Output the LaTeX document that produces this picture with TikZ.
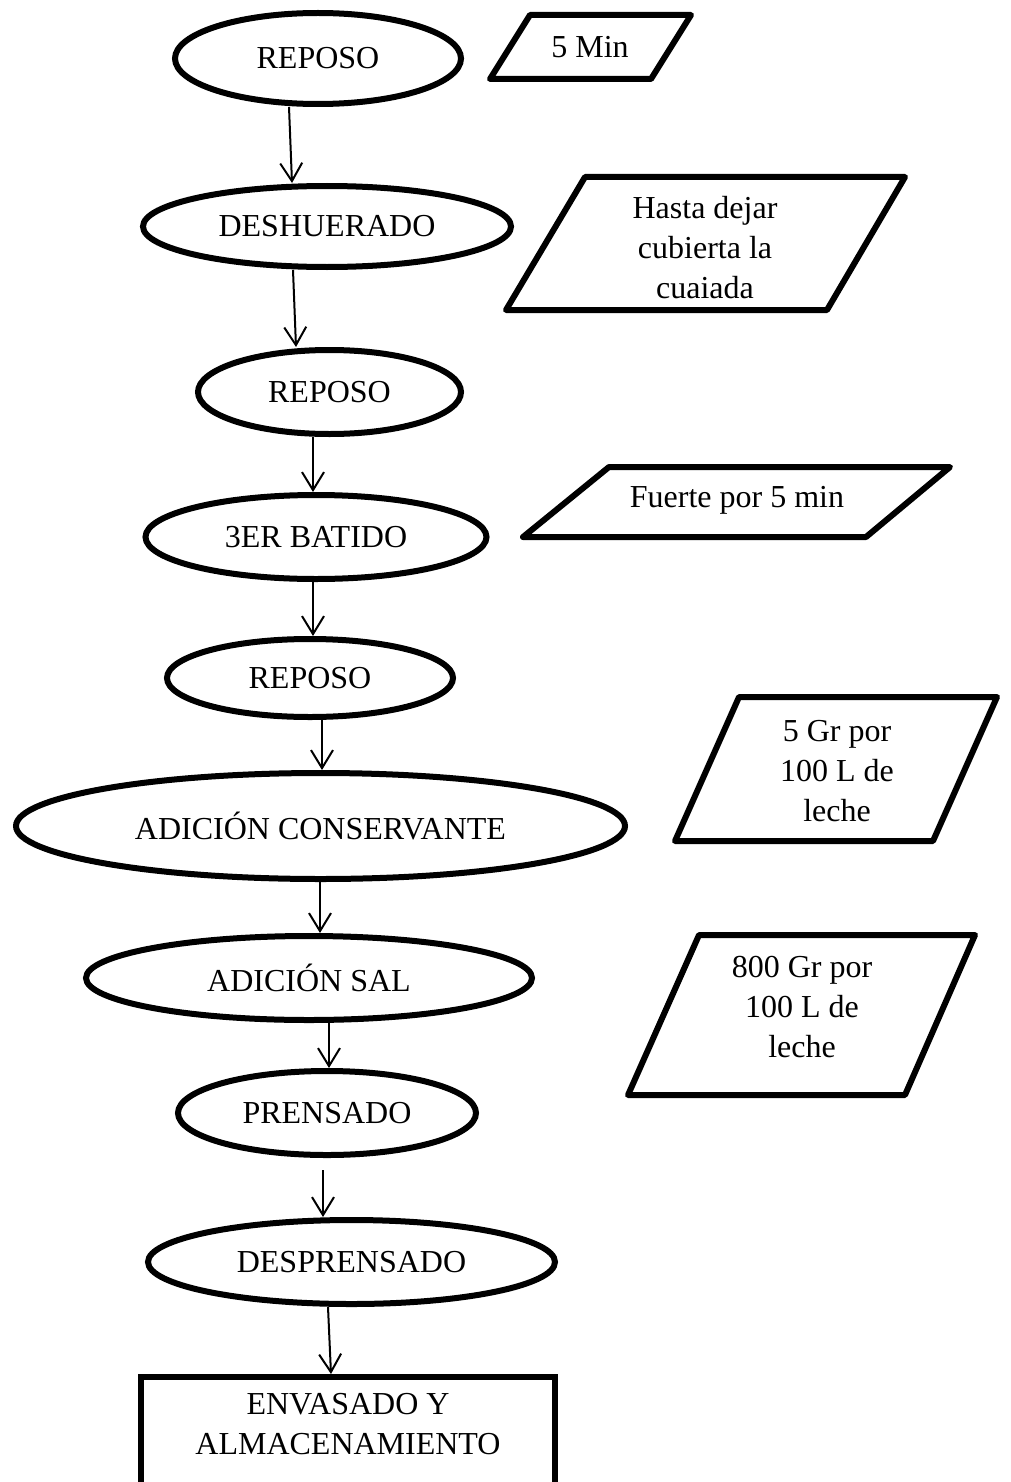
\documentclass[tikz,border=0pt]{standalone}
\usepackage{fontspec}
\setmainfont{Liberation Serif}
\usetikzlibrary{shapes.geometric,arrows.meta,calc}
\begin{document}
\begin{tikzpicture}[x=1pt,y=-1pt,
  txt/.style={font=\fontsize{32}{40}\selectfont, align=center, inner sep=0pt},
  proc/.style={ellipse, draw, line width=6pt, txt},
  databox/.style={draw, line width=6pt, line join=round},
  arr/.style={-{Straight Barb[length=18pt,width=22pt]}, line width=2pt}]
\useasboundingbox (0,0) rectangle (1011,1482);

% process ellipses
\node[proc, minimum width=286pt, minimum height=91pt] (e1) at (318,58.5) {REPOSO};
\node[proc, minimum width=368pt, minimum height=81pt] (e2) at (327,226.5) {DESHUERADO};
\node[proc, minimum width=263pt, minimum height=84pt] (e3) at (329.5,392) {REPOSO};
\node[proc, minimum width=341pt, minimum height=84pt] (e4) at (316,537) {3ER BATIDO};
\node[proc, minimum width=286pt, minimum height=78pt] (e5) at (310,678) {REPOSO};
\node[proc, minimum width=609pt, minimum height=106pt] (e6) at (320.5,826) {ADICIÓN CONSERVANTE};
\node[proc, minimum width=446pt, minimum height=84pt] (e7) at (309,978) {ADICIÓN SAL};
\node[proc, minimum width=298pt, minimum height=84pt] (e8) at (327,1113) {PRENSADO};
\node[proc, minimum width=407pt, minimum height=84pt] (e9) at (351.5,1262) {DESPRENSADO};

% final rectangle
\node[draw, line width=6pt, minimum width=414pt, minimum height=108pt, inner sep=0pt] (env) at (348,1431) {};
\node[txt] (envtxt) at (348,1424) {ENVASADO Y\\ALMACENAMIENTO};

% data parallelograms
\draw[databox] (490,79) -- (530,15) -- (691,15) -- (651,79) -- cycle;
\node[txt] (d1) at (590,47) {5 Min};

\draw[databox] (506,310) -- (585,177) -- (905,177) -- (827,310) -- cycle;
\node[txt] (d2) at (705,248) {Hasta dejar\\cubierta la\\cuaiada};

\draw[databox] (523,537) -- (609,467) -- (950,467) -- (866,537) -- cycle;
\node[txt] (d3) at (737,500) {Fuerte por 5 min};

\draw[databox] (675,841) -- (739,697) -- (997,697) -- (933,841) -- cycle;
\node[txt] (d4) at (837,771) {5 Gr por\\100 L de\\leche};

\draw[databox] (628,1095) -- (699,935) -- (975,935) -- (905,1095) -- cycle;
\node[txt] (d5) at (802,1007) {800 Gr por\\100 L de\\leche};

% connectors
\draw[arr] ($(e1.south)+(-29,0)$) -- ($(e2.north)+(-35,0)$);
\draw[arr] ($(e2.south)+(-34,0)$) -- ($(e3.north)+(-33.5,0)$);
\draw[arr] ($(e3.south)+(-16.5,0)$) -- ($(e4.north)+(-3,0)$);
\draw[arr] ($(e4.south)+(-3,0)$) -- ($(e5.north)+(3,0)$);
\draw[arr] ($(e5.south)+(12,0)$) -- ($(e6.north)+(1.5,0)$);
\draw[arr] ($(e6.south)+(-0.5,0)$) -- ($(e7.north)+(11,0)$);
\draw[arr] ($(e7.south)+(20,0)$) -- ($(e8.north)+(2,0)$);
\draw[arr] ($(e8.south)+(-4,12)$) -- ($(e9.north)+(-28.5,0)$);
\draw[arr] ($(e9.south)+(-23.5,0)$) -- ($(env.north)+(-17,0)$);
\end{tikzpicture}
\end{document}
